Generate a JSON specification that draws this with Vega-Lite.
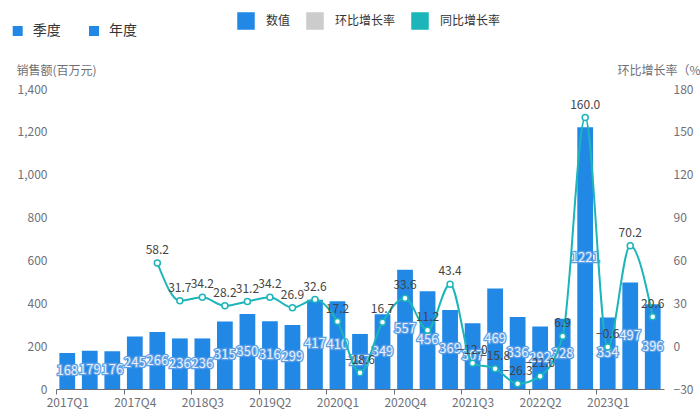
{
  "$schema": "https://vega.github.io/schema/vega-lite/v6.json",
  "autosize": {"type": "none"},
  "padding": {"left": 56, "top": 89, "right": 36, "bottom": 28},
  "width": 608,
  "height": 300,
  "background": "#ffffff",
  "config": {
    "font": "Noto Sans CJK SC",
    "view": {"stroke": null},
    "axis": {"labelFont": "Noto Sans CJK SC", "titleFont": "Noto Sans CJK SC"},
    "legend": {"labelFont": "Noto Sans CJK SC"}
  },
  "data": {
    "values": [
      {"quarter": "2017Q1", "sales": 168, "yoy": null},
      {"quarter": "2017Q2", "sales": 179, "yoy": null},
      {"quarter": "2017Q3", "sales": 176, "yoy": null},
      {"quarter": "2017Q4", "sales": 245, "yoy": null},
      {"quarter": "2018Q1", "sales": 266, "yoy": 58.2},
      {"quarter": "2018Q2", "sales": 236, "yoy": 31.7},
      {"quarter": "2018Q3", "sales": 236, "yoy": 34.2},
      {"quarter": "2018Q4", "sales": 315, "yoy": 28.2},
      {"quarter": "2019Q1", "sales": 350, "yoy": 31.2},
      {"quarter": "2019Q2", "sales": 316, "yoy": 34.2},
      {"quarter": "2019Q3", "sales": 299, "yoy": 26.9},
      {"quarter": "2019Q4", "sales": 417, "yoy": 32.6},
      {"quarter": "2020Q1", "sales": 410, "yoy": 17.2},
      {"quarter": "2020Q2", "sales": 257, "yoy": -18.6},
      {"quarter": "2020Q3", "sales": 349, "yoy": 16.7},
      {"quarter": "2020Q4", "sales": 557, "yoy": 33.6},
      {"quarter": "2021Q1", "sales": 456, "yoy": 11.2},
      {"quarter": "2021Q2", "sales": 369, "yoy": 43.4},
      {"quarter": "2021Q3", "sales": 307, "yoy": -12.0},
      {"quarter": "2021Q4", "sales": 469, "yoy": -15.8},
      {"quarter": "2022Q1", "sales": 336, "yoy": -26.3},
      {"quarter": "2022Q2", "sales": 292, "yoy": -21.0},
      {"quarter": "2022Q3", "sales": 328, "yoy": 6.9},
      {"quarter": "2022Q4", "sales": 1221, "yoy": 160.0},
      {"quarter": "2023Q1", "sales": 334, "yoy": -0.6},
      {"quarter": "2023Q2", "sales": 497, "yoy": 70.2},
      {"quarter": "2023Q3", "sales": 396, "yoy": 20.6}
    ]
  },
  "encoding": {
    "x": {
      "field": "quarter",
      "type": "ordinal",
      "sort": null,
      "scale": {"paddingInner": 0.3, "paddingOuter": 0.15},
      "axis": {
        "values": ["2017Q1", "2017Q4", "2018Q3", "2019Q2", "2020Q1", "2020Q4", "2021Q3", "2022Q2", "2023Q1"],
        "labelAngle": 0,
        "title": null,
        "grid": false,
        "tickOffset": -11.26,
        "labelOffset": 11.26,
        "tickSize": 5,
        "domainColor": "#6e7079",
        "tickColor": "#6e7079",
        "labelColor": "#6e7079",
        "labelFontSize": 12,
        "labelPadding": 3
      }
    }
  },
  "layer": [
    {
      "mark": {"type": "bar", "strokeWidth": 0},
      "encoding": {
        "y": {
          "field": "sales",
          "type": "quantitative",
          "scale": {"domain": [0, 1400], "nice": false},
          "axis": {
            "orient": "left",
            "values": [0, 200, 400, 600, 800, 1000, 1200, 1400],
            "format": ",.0f",
            "grid": false,
            "domain": false,
            "ticks": false,
            "labelPadding": 9,
            "labelColor": "#6e7079",
            "labelFontSize": 12,
            "title": "销售额(百万元)",
            "titleAngle": 0,
            "titleAlign": "left",
            "titleBaseline": "middle",
            "titleX": -40,
            "titleY": -19,
            "titleColor": "#6e7079",
            "titleFontWeight": "normal",
            "titleFontSize": 12
          }
        },
        "color": {
          "datum": "数值",
          "type": "nominal",
          "scale": {
            "domain": ["数值", "环比增长率", "同比增长率"],
            "range": ["#2188e6", "#cccccc", "#1cb5b9"]
          },
          "legend": {
            "orient": "none",
            "legendX": 181,
            "legendY": -77,
            "direction": "horizontal",
            "title": null,
            "padding": 0,
            "symbolSize": 256,
            "labelOffset": 11,
            "columnPadding": 13,
            "labelFontSize": 12,
            "labelColor": "#333333",
            "encode": {
              "symbols": {
                "update": {
                  "shape": {"signal": "datum.value === '数值' ? 'M-1.125,-0.875H1.125A0.375,0.375 0 0 1 1.5,-0.5V0.5A0.375,0.375 0 0 1 1.125,0.875H-1.125A0.375,0.375 0 0 1 -1.5,0.5V-0.5A0.375,0.375 0 0 1 -1.125,-0.875Z' : 'M-1.5,0H-0.5M0.5,0H1.5M-0.5,0A0.5,0.5 0 1 0 0.5,0A0.5,0.5 0 1 0 -0.5,0Z'"},
                  "fill": {"signal": "datum.value === '数值' ? '#2188e6' : '#ffffff'"},
                  "stroke": {"signal": "datum.value === '数值' ? 'transparent' : (datum.value === '同比增长率' ? '#1cb5b9' : '#cccccc')"},
                  "strokeWidth": {"value": 2},
                  "opacity": {"value": 1}
                }
              },
              "labels": {
                "update": {
                  "fill": {"signal": "datum.value === '环比增长率' ? '#cccccc' : '#333333'"}
                }
              }
            }
          }
        },
        "stroke": {
          "datum": "季度",
          "type": "nominal",
          "scale": {"domain": ["季度", "年度"], "range": ["transparent", "transparent"]},
          "legend": {
            "orient": "none",
            "legendX": -45.3,
            "legendY": -65,
            "direction": "horizontal",
            "title": null,
            "padding": 0,
            "symbolSize": 100,
            "labelOffset": 8,
            "columnPadding": 25.3,
            "labelFontSize": 14,
            "labelColor": "#333333",
            "encode": {
              "symbols": {
                "update": {
                  "shape": {"signal": "datum.value === '季度' ? 'M-0.94,-3.6H13.26V3.6H-0.94A0.8,0.8 0 0 1 -1.74,2.8V-2.8A0.8,0.8 0 0 1 -0.94,-3.6Z' : 'M-1,-3.6H13A0.8,0.8 0 0 1 13.8,-2.8V2.8A0.8,0.8 0 0 1 13,3.6H-1Z'"},
                  "fill": {"signal": "datum.value === '季度' ? '#f2f2f2' : '#ffffff'"},
                  "stroke": {"value": "#dcdfe6"},
                  "strokeWidth": {"value": 1},
                  "opacity": {"value": 1}
                }
              },
              "labels": {
                "update": {"fill": {"value": "#333333"}}
              }
            }
          }
        }
      }
    },
    {
      "encoding": {
        "y": {"field": "sales", "type": "quantitative", "scale": {"domain": [0, 2800], "nice": false}, "axis": null},
        "text": {"field": "sales", "type": "quantitative"}
      },
      "layer": [
        {"mark": {"type": "text", "fontSize": 13, "baseline": "middle", "fill": "#5d9fe6", "stroke": "#5d9fe6", "strokeWidth": 2.5}},
        {"mark": {"type": "text", "fontSize": 13, "baseline": "middle", "fill": "#e6f0fc"}}
      ]
    },
    {
      "mark": {"type": "line", "interpolate": "monotone", "strokeWidth": 2},
      "encoding": {
        "y": {
          "field": "yoy",
          "type": "quantitative",
          "scale": {"domain": [-30, 180], "nice": false, "zero": false},
          "axis": {
            "orient": "right",
            "values": [-30, 0, 30, 60, 90, 120, 150, 180],
            "grid": false,
            "domain": false,
            "ticks": false,
            "labelPadding": 9,
            "labelColor": "#6e7079",
            "labelFontSize": 12,
            "title": "环比增长率（%）",
            "titleAngle": 0,
            "titleAlign": "left",
            "titleBaseline": "middle",
            "titleX": -47,
            "titleY": -19,
            "titleColor": "#6e7079",
            "titleFontWeight": "normal",
            "titleFontSize": 12
          }
        },
        "color": {"datum": "同比增长率", "type": "nominal"}
      }
    },
    {
      "mark": {"type": "point", "filled": false, "fill": "#ffffff", "stroke": "#1cb5b9", "strokeWidth": 1.5, "size": 36, "opacity": 1},
      "encoding": {
        "y": {"field": "yoy", "type": "quantitative", "scale": {"domain": [-30, 180], "nice": false, "zero": false}, "axis": null}
      }
    },
    {
      "mark": {"type": "text", "dy": -13, "fontSize": 12, "fill": "#444444", "baseline": "middle"},
      "encoding": {
        "y": {"field": "yoy", "type": "quantitative", "scale": {"domain": [-30, 180], "nice": false, "zero": false}, "axis": null},
        "text": {"field": "yoy", "type": "quantitative", "format": ".1f"}
      }
    }
  ],
  "resolve": {"scale": {"y": "independent"}}
}
